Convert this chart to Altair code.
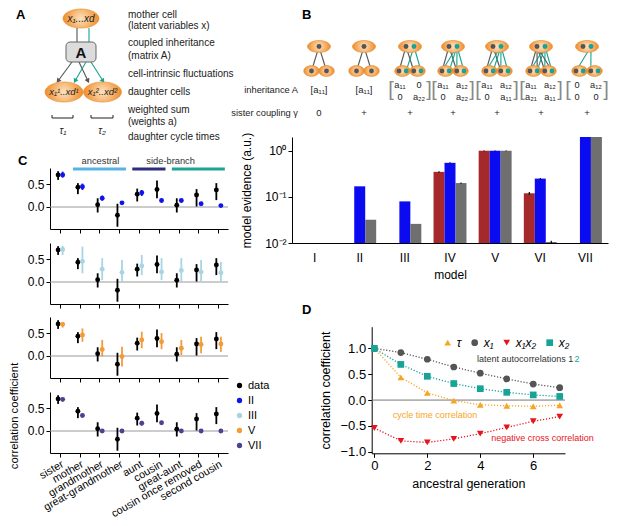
import math
import altair as alt
import pandas as pd

FONT = "Liberation Sans, Arial, Helvetica, sans-serif"
M = 8            # page margin
W, H = 601, 510  # drawing area

# ---------------- Panel B : model evidence ----------------
models = ["I", "II", "III", "IV", "V", "VI", "VII"]
ev_series = ["red", "blue", "gray"]
ev_hex = {"red": "#a5282a", "blue": "#0b0bf2", "gray": "#6f6f6f"}
ev_red = [None, None, None, 0.35, 1.0, 0.12, None]
ev_blue = [None, 0.17, 0.08, 0.55, 1.0, 0.25, 2.0]
ev_gray = [None, 0.032, 0.026, 0.20, 1.0, 0.0105, 2.0]
ev_red_lo = [None, None, None, 0.338, 0.985, 0.112, None]
ev_red_hi = [None, None, None, 0.362, 1.015, 0.128, None]
ev_blue_lo = [None, None, None, 0.537, 0.985, 0.241, None]
ev_blue_hi = [None, None, None, 0.563, 1.015, 0.259, None]
ev_gray_lo = [None, None, None, 0.193, 0.985, 0.0100, None]
ev_gray_hi = [None, None, None, 0.207, 1.015, 0.0112, None]

# ---------------- Panel B : model sketches ----------------
B_gamma = ["0", "+", "+", "+", "+", "+", "+"]
B_matrix = [["a₁₁"], ["a₁₁"],
            ["a₁₁", "0", "0", "a₂₂"],
            ["a₁₁", "a₁₂", "0", "a₂₂"],
            ["a₁₁", "a₁₂", "0", "a₁₁"],
            ["a₁₁", "a₁₂", "a₂₁", "a₁₁"],
            ["0", "a₁₂", "0", "0"]]
B_links = [["11"], ["11"], ["11", "22"], ["11", "12", "22"],
           ["11", "12", "22"], ["11", "12", "21", "22"], ["12"]]
B_latent = [1, 1, 2, 2, 2, 2, 2]

# ---------------- Panel A : texts ----------------
A_text = ["mother cell", "(latent variables x)", "coupled inheritance", "(matrix A)",
          "cell-intrinsic fluctuations", "daughter cells", "weighted sum",
          "(weights a)", "daughter cycle times"]

# ---------------- Panel C : correlations ----------------
relations = ["sister", "mother", "grandmother", "great-grandmother", "aunt",
             "cousin", "great-aunt", "cousin once removed", "second cousin"]
data_v = [0.70, 0.43, 0.05, -0.18, 0.28, 0.38, 0.04, 0.26, 0.37]
data_lo = [0.59, 0.28, -0.12, -0.43, 0.12, 0.19, -0.12, 0.01, 0.15]
data_hi = [0.78, 0.52, 0.19, 0.07, 0.40, 0.58, 0.19, 0.39, 0.52]
C_models = ["II", "III", "V", "VII"]
mod_v = {
    "II": [0.70, 0.44, 0.19, 0.09, 0.31, 0.14, 0.14, 0.07, 0.03],
    "III": [0.71, 0.45, 0.28, 0.21, 0.35, 0.22, 0.25, 0.22, 0.20],
    "V": [0.69, 0.46, 0.14, -0.01, 0.35, 0.31, 0.17, 0.25, 0.26],
    "VII": [0.69, 0.34, 0.0, 0.0, 0.17, 0.18, 0.0, 0.0, 0.0],
}
mod_lo = {
    "II": [0.64, 0.37, 0.14, 0.06, 0.24, 0.10, 0.10, 0.04, 0.02],
    "III": [0.59, 0.19, 0.04, 0.00, 0.15, 0.04, 0.00, 0.00, -0.02],
    "V": [0.62, 0.31, -0.01, -0.23, 0.17, 0.15, 0.02, 0.06, 0.09],
    "VII": [0.64, 0.29, 0.0, 0.0, 0.12, 0.14, 0.0, 0.0, 0.0],
}
mod_hi = {
    "II": [0.77, 0.51, 0.25, 0.12, 0.37, 0.18, 0.18, 0.10, 0.04],
    "III": [0.79, 0.77, 0.52, 0.48, 0.59, 0.52, 0.52, 0.48, 0.44],
    "V": [0.74, 0.60, 0.35, 0.20, 0.53, 0.50, 0.35, 0.42, 0.42],
    "VII": [0.73, 0.38, 0.0, 0.0, 0.22, 0.22, 0.0, 0.0, 0.0],
}
C_series = ["data", "II", "III", "V", "VII"]
C_hex = ["#000000", "#1212ee", "#a9d4e4", "#f39b37", "#4a4390"]
groups = ["ancestral", "side-branch", ""]
group_from = [1, 4, 6]
group_to = [3, 5, 8]
group_hex = ["#56b3e3", "#2e2e80", "#1fa394"]

# ---------------- Panel D : ancestral correlations ----------------
gen = [0, 1, 2, 3, 4, 5, 6, 7]
d_x1 = [1.0, 0.92, 0.79, 0.64, 0.52, 0.41, 0.31, 0.24]
d_x2 = [1.0, 0.69, 0.46, 0.32, 0.22, 0.15, 0.10, 0.07]
d_tau = [1.0, 0.44, 0.14, -0.01, -0.09, -0.11, -0.12, -0.10]
d_x1x2 = [-0.54, -0.79, -0.82, -0.75, -0.65, -0.53, -0.41, -0.32]
D_names = ["τ", "x₁", "x₁x₂", "x₂"]
D_hex = ["#f5a623", "#555555", "#e8141c", "#17a398"]
D_shapes = ["triangle-up", "circle", "triangle-down", "square"]


# ================= helpers =================
def S(domain, r0, r1, **kw):
    """scale whose range is given in page pixels"""
    return alt.Scale(domain=domain, range=[r0 - M, r1 - M], nice=False, zero=False, **kw)


PX = S([0, 617], 0, 617)
PY = S([0, 526], 0, 526)


def pos_enc():
    return dict(x=alt.X("x:Q", scale=PX, axis=None), y=alt.Y("y:Q", scale=PY, axis=None))


def text_layer(rows, align="center", style="normal", weight="normal", angle=None, baseline="middle"):
    kw = dict(font=FONT, align=align, baseline=baseline, fontStyle=style, fontWeight=weight)
    if angle is not None:
        kw["angle"] = angle
    return alt.Chart(pd.DataFrame(rows, columns=["x", "y", "t", "fs", "c"])).mark_text(**kw).encode(
        **pos_enc(), text="t:N", size=alt.Size("fs:Q", scale=None), color=alt.Color("c:N", scale=None))


def ell_path(r):
    return f"M-1,0A1,{r},0,1,1,1,0A1,{r},0,1,1,-1,0Z"


GRAY, TEAL = "#555555", "#19a394"

# ================= diagrams (panels A and B top) =================
cells = [(81, 18.5, 36, 0.53), (64, 92, 38, 0.53), (102.5, 92, 38, 0.53)]
B_cx = [319, 364, 410, 453, 497, 541, 587]
dots, links = [], []
for i, c in enumerate(B_cx):
    cells += [(c, 46.5, 23, 0.52), (c - 7.5, 71, 15.5, 0.7), (c + 7.5, 71, 15.5, 0.7)]
    if B_latent[i] == 1:
        mom = {"1": (c, 46.5)}
        kids = {"1": [(c - 7.5, 71), (c + 7.5, 71)], "2": []}
    else:
        mom = {"1": (c - 4, 46.5), "2": (c + 4, 46.5)}
        kids = {"1": [(c - 11, 71), (c + 3.8, 71)], "2": [(c - 3.8, 71), (c + 11, 71)]}
    for lk in B_links[i]:
        tgt, src = lk[0], lk[1]
        sx_, sy_ = mom[src]
        for kx, ky in kids[tgt]:
            links.append((sx_, sy_, kx, ky, GRAY if src == "1" else TEAL))
    for k, (mx, my) in mom.items():
        dots.append((mx, my, GRAY if k == "1" else TEAL))
    for k, lst in kids.items():
        for kx, ky in lst:
            dots.append((kx, ky, GRAY if k == "1" else TEAL))

cell_df = pd.DataFrame([{"x": x, "y": y, "s": w * w, "p": ell_path(r)} for x, y, w, r in cells])
grad = {"gradient": "radial", "stops": [{"offset": 0, "color": "#fde3c1"}, {"offset": 1, "color": "#ef8b28"}]}
ellipses = alt.Chart(cell_df).mark_point(filled=True, opacity=1, fill=grad, stroke="#e68a2a",
                                         strokeWidth=0.6).encode(
    **pos_enc(), size=alt.Size("s:Q", scale=None), shape=alt.Shape("p:N", scale=None))

# panel A connections
A_segs = [(77, 28, 77, 42, GRAY), (89, 28, 89, 42, TEAL)]
A_arrows = [(72, 62, 58, 81, GRAY), (79, 62, 88, 81, GRAY), (86, 62, 75, 81, TEAL), (91, 62, 103, 81, TEAL)]
A_brackets = [(52, 118, 73, 118), (52, 115, 52, 118), (73, 115, 73, 118),
              (91, 118, 113, 118), (91, 115, 91, 118), (113, 115, 113, 118)]
seg_rows = [dict(x=a, y=b, x2=c, y2=d, h=e) for a, b, c, d, e in A_segs + A_arrows + links]
seg_rows += [dict(x=a, y=b, x2=c, y2=d, h="#333333") for a, b, c, d in A_brackets]
segs = alt.Chart(pd.DataFrame(seg_rows)).mark_rule(strokeWidth=1.1).encode(
    **pos_enc(), x2="x2:Q", y2="y2:Q", color=alt.Color("h:N", scale=None))

head_rows = []
for a, b, c, d, e in A_arrows:
    ang = math.degrees(math.atan2(-(c - a), (d - b))) % 360
    head_rows.append(dict(x=c, y=d, ang=ang, h=e))
heads = alt.Chart(pd.DataFrame(head_rows)).mark_point(shape="triangle-down", filled=True, opacity=1,
                                                      size=28).encode(
    **pos_enc(), angle=alt.Angle("ang:Q", scale=None), color=alt.Color("h:N", scale=None))

box = alt.Chart(pd.DataFrame([dict(x=66, y=42, x2=96, y2=62)])).mark_rect(
    cornerRadius=4, fill="#dcdcdc", stroke="#666666", strokeWidth=1).encode(**pos_enc(), x2="x2:Q", y2="y2:Q")

dot_df = pd.DataFrame([dict(x=a, y=b, h=c) for a, b, c in dots])
dot_layer = alt.Chart(dot_df).mark_circle(size=24, opacity=1).encode(**pos_enc(), color=alt.Color("h:N", scale=None))

TXT = "#222222"
A_rows_y = [15, 25.5, 43, 56, 74, 92, 110, 122, 137]
t_left = [(128, y, t, 10, TXT) for y, t in zip(A_rows_y, A_text)]
t_right = [(298, 90, "inheritance A", 9.3, TXT), (298, 113, "sister coupling γ", 9.3, TXT)]
t_center = [(c, 113, g, 9.5, TXT) for c, g in zip(B_cx, B_gamma)]
t_brack = []
for c, mat in zip(B_cx, B_matrix):
    if len(mat) == 1:
        t_center.append((c, 90, "[" + mat[0] + "]", 9.5, TXT))
    else:
        t_center += [(c - 10, 85, mat[0], 9.2, TXT), (c + 9, 85, mat[1], 9.2, TXT),
                     (c - 10, 96.5, mat[2], 9.2, TXT), (c + 9, 96.5, mat[3], 9.2, TXT)]
        t_brack += [(c - 19, 90, "[", 20, "#888888"), (c + 19, 90, "]", 20, "#888888")]
t_ital = [(81, 18.5, "x₁...xd", 10, TXT), (64, 92, "x₁¹..xd¹", 9.5, TXT), (102.5, 92, "x₁²..xd²", 9.5, TXT),
          (63, 131, "τ₁", 10, TXT), (102, 131, "τ₂", 10, TXT)]
t_boldA = [(81, 52.5, "A", 15, "#111111")]
t_panels = [(16, 15, "A", 13, "#000000"), (302, 15, "B", 13, "#000000"),
            (18, 161, "C", 13, "#000000"), (302, 310, "D", 13, "#000000")]
t_ctitle = [(15, 416, "correlation coefficient", 11.3, "#000000")]

diagram = alt.layer(
    segs, heads, ellipses, box, dot_layer,
    text_layer(t_left, align="left"),
    text_layer(t_right, align="right"),
    text_layer(t_center),
    text_layer(t_brack, weight="lighter"),
    text_layer(t_ital, style="italic"),
    text_layer(t_boldA, weight="bold"),
    text_layer(t_panels, align="left", weight="bold"),
    text_layer(t_ctitle, angle=270),
)

# ================= Panel B bars =================
ev = {"red": (ev_red, ev_red_lo, ev_red_hi), "blue": (ev_blue, ev_blue_lo, ev_blue_hi),
      "gray": (ev_gray, ev_gray_lo, ev_gray_hi)}
bar_rows, err_rows = [], []
for s in ev_series:
    vals, los, his = ev[s]
    for m, v, lo, hi in zip(models, vals, los, his):
        if v is not None:
            bar_rows.append(dict(model=m, series=s, v=v, base=0.01, hex=ev_hex[s]))
        if lo is not None:
            err_rows.append(dict(model=m, series=s, lo=lo, hi=hi))
bx = alt.Scale(domain=models, range=[292 - M, 608 - M], paddingInner=0.27, paddingOuter=0.135)
by = S([0.01, 2], 243, 137, type="log")
bar_xaxis = alt.Axis(orient="bottom", offset=-(H - (243 - M)), ticks=False, labelPadding=9,
                     labelFontSize=12, labelAngle=0, title="model", titleFontSize=12, titlePadding=6)
bar_yaxis = alt.Axis(orient="left", offset=-(292 - M), values=[0.01, 0.1, 1], tickSize=4,
                     labelExpr="datum.value > 0.5 ? '10⁰' : (datum.value > 0.05 ? '10⁻¹' : '10⁻²')",
                     labelFontSize=12, labelPadding=2, title="model evidence (a.u.)", titleFontSize=12,
                     titlePadding=11)
bars = alt.Chart(pd.DataFrame(bar_rows)).mark_bar().encode(
    x=alt.X("model:N", scale=bx, axis=bar_xaxis),
    xOffset=alt.XOffset("series:N", scale=alt.Scale(domain=ev_series)),
    y=alt.Y("v:Q", scale=by, axis=bar_yaxis), y2="base:Q",
    color=alt.Color("hex:N", scale=None))
bar_err = alt.Chart(pd.DataFrame(err_rows)).mark_rule(color="black", strokeWidth=1.2).encode(
    x=alt.X("model:N", scale=bx, axis=bar_xaxis),
    xOffset=alt.XOffset("series:N", scale=alt.Scale(domain=ev_series)),
    y=alt.Y("lo:Q", scale=by, axis=bar_yaxis), y2="hi:Q")
bpanel = alt.layer(bars, bar_err)

# ================= Panel C =================
C_tops = [168, 243, 317, 392]
C_bots = [229, 304, 378, 453]
C_xdom = [-0.5, 8.5]
C_ydom = [-0.48, 0.85]
DATA_OFF, MOD_OFF = -0.09, 0.14
c_color = alt.Color("series:N", scale=alt.Scale(domain=C_series, range=C_hex),
                    legend=alt.Legend(orient="none", legendX=237 - M - 3, legendY=386 - M - 6, title=None,
                                      labelFont=FONT, labelFontSize=11, symbolSize=28, symbolType="circle",
                                      rowPadding=3, padding=0, labelOffset=3))
hexmap = dict(zip(C_series, C_hex))


def c_panel(k, model):
    xs = S(C_xdom, 50, 228)
    ys = S(C_ydom, C_bots[k], C_tops[k])
    rows = []
    for i in range(len(relations)):
        rows.append(dict(pos=i + DATA_OFF, v=data_v[i], lo=data_lo[i], hi=data_hi[i], series="data",
                         hex=hexmap["data"]))
        rows.append(dict(pos=i + MOD_OFF, v=mod_v[model][i], lo=mod_lo[model][i], hi=mod_hi[model][i],
                         series=model, hex=hexmap[model]))
    df = pd.DataFrame(rows)
    xaxis = alt.Axis(orient="bottom", offset=-(H - (C_bots[k] - M)), values=list(range(len(relations))),
                     tickSize=4, labels=False, title=None)
    yaxis = alt.Axis(orient="left", offset=-(50 - M), values=[0, 0.5], format=".1f", tickSize=4,
                     labelFontSize=12, labelPadding=2, title=None)
    zero = alt.Chart(pd.DataFrame({"x0": [C_xdom[0]], "x1": [C_xdom[1]], "y0": [0.0]})).mark_rule(
        color="#9a9a9a", strokeWidth=1.2).encode(
        x=alt.X("x0:Q", scale=xs, axis=xaxis), x2="x1:Q", y=alt.Y("y0:Q", scale=ys, axis=yaxis))
    err = alt.Chart(df).mark_rule(strokeWidth=1.8).encode(
        x=alt.X("pos:Q", scale=xs, axis=xaxis), y=alt.Y("lo:Q", scale=ys, axis=yaxis), y2="hi:Q",
        color=alt.Color("hex:N", scale=None))
    pts = alt.Chart(df).mark_circle(size=24, opacity=1).encode(
        x=alt.X("pos:Q", scale=xs, axis=xaxis), y=alt.Y("v:Q", scale=ys, axis=yaxis), color=c_color)
    layers = [zero, err, pts]
    if k == 0:
        gdf = pd.DataFrame(dict(g=groups, a=[f - 0.34 for f in group_from], b=[t + 0.34 for t in group_to],
                                yl=[0.828] * 3, hex=group_hex))
        glines = alt.Chart(gdf).mark_rule(strokeWidth=3).encode(
            x=alt.X("a:Q", scale=xs, axis=xaxis), x2="b:Q", y=alt.Y("yl:Q", scale=ys, axis=yaxis),
            color=alt.Color("hex:N", scale=None))
        tdf = pd.DataFrame(dict(t=["ancestral", "side-branch"], xp=[2.05, 5.6], yp=[1.0, 1.0]))
        gtext = alt.Chart(tdf).mark_text(font=FONT, fontSize=9.3, color="#333333").encode(
            x=alt.X("xp:Q", scale=xs, axis=xaxis), y=alt.Y("yp:Q", scale=ys, axis=yaxis), text="t:N")
        layers += [glines, gtext]
    if k == 3:
        ldf = pd.DataFrame(dict(t=relations, xp=list(range(len(relations))), yp=[-0.6] * len(relations)))
        ltext = alt.Chart(ldf).mark_text(font=FONT, fontSize=10.8, color="black", angle=330, align="right",
                                         baseline="top").encode(
            x=alt.X("xp:Q", scale=xs, axis=xaxis), y=alt.Y("yp:Q", scale=ys, axis=yaxis), text="t:N")
        layers += [ltext]
    return alt.layer(*layers)


cpanel = alt.layer(*[c_panel(k, m) for k, m in enumerate(C_models)]).resolve_scale(
    x="independent", y="independent", color="shared").resolve_axis(x="independent", y="independent")

# ================= Panel D =================
dx = S([-0.1, 7.2], 371.7, 565)
dy = S([-1.03, 1.42], 453.3, 326.7)
d_series = {"τ": d_tau, "x₁": d_x1, "x₁x₂": d_x1x2, "x₂": d_x2}
d_rows = []
for name, h in zip(D_names, D_hex):
    for g, v in zip(gen, d_series[name]):
        d_rows.append(dict(gen=g, v=v, series=name, hex=h))
ddf = pd.DataFrame(d_rows)
d_xaxis = alt.Axis(orient="bottom", offset=-(H - (453.3 - M)), values=[0, 2, 4, 6], tickSize=4,
                   labelFontSize=13, labelPadding=2, title="ancestral generation", titleFontSize=12.5,
                   titlePadding=5)
d_yaxis = alt.Axis(orient="left", offset=-(371.7 - M), values=[-1, -0.5, 0, 0.5, 1], tickSize=4,
                   labelExpr="replace(format(datum.value, '.1f'), '-', '−')", labelFontSize=13,
                   labelPadding=2, title="correlation coefficient", titleFontSize=12.5, titlePadding=8)
d_leg = alt.Legend(orient="none", direction="horizontal", legendX=441.7 - M, legendY=342.7 - M - 6,
                   title=None, labelFont=FONT, labelFontSize=12, labelFontStyle="italic", symbolSize=45,
                   columnPadding=7, labelOffset=3, padding=0)
d_zero = alt.Chart(pd.DataFrame({"x0": [-0.1], "x1": [7.2], "y0": [0.0]})).mark_rule(
    color="#777777", strokeWidth=1).encode(
    x=alt.X("x0:Q", scale=dx, axis=d_xaxis), x2="x1:Q", y=alt.Y("y0:Q", scale=dy, axis=d_yaxis))
d_lines = alt.Chart(ddf).mark_line(strokeDash=[1.2, 1.8], strokeWidth=1.3).encode(
    x=alt.X("gen:Q", scale=dx, axis=d_xaxis), y=alt.Y("v:Q", scale=dy, axis=d_yaxis),
    color=alt.Color("hex:N", scale=None), detail="series:N")
d_pts = alt.Chart(ddf).mark_point(filled=True, opacity=1, size=45).encode(
    x=alt.X("gen:Q", scale=dx, axis=d_xaxis), y=alt.Y("v:Q", scale=dy, axis=d_yaxis),
    color=alt.Color("series:N", scale=alt.Scale(domain=D_names, range=D_hex), legend=d_leg),
    shape=alt.Shape("series:N", scale=alt.Scale(domain=D_names, range=D_shapes), legend=d_leg))
ann = pd.DataFrame(dict(
    t=["latent autocorrelations 1", "2", "cycle time correlation", "negative cross correlation"],
    xp=[3.88, 7.56, 2.29, 6.35], yp=[0.795, 0.795, -0.29, -0.734],
    c=["#333333", TEAL, "#f5a623", "#e8141c"], al=["left", "left", "center", "center"]))
d_ann_l = alt.Chart(ann[ann.al == "left"]).mark_text(font=FONT, fontSize=9, align="left").encode(
    x=alt.X("xp:Q", scale=dx, axis=d_xaxis), y=alt.Y("yp:Q", scale=dy, axis=d_yaxis), text="t:N",
    color=alt.Color("c:N", scale=None))
d_ann_c = alt.Chart(ann[ann.al == "center"]).mark_text(font=FONT, fontSize=9, align="center").encode(
    x=alt.X("xp:Q", scale=dx, axis=d_xaxis), y=alt.Y("yp:Q", scale=dy, axis=d_yaxis), text="t:N",
    color=alt.Color("c:N", scale=None))
dpanel = alt.layer(d_zero, d_lines, d_pts, d_ann_l, d_ann_c)

# ================= assemble =================
chart = alt.layer(diagram, bpanel, cpanel, dpanel).resolve_scale(
    x="independent", y="independent", color="independent", shape="independent"
).resolve_axis(x="independent", y="independent").properties(
    width=W, height=H, padding=0, autosize=alt.AutoSizeParams(type="none"), background="white"
).configure_view(stroke=None).configure_axis(
    grid=False, labelFont=FONT, titleFont=FONT, domainColor="black", tickColor="black",
    labelColor="black", titleColor="black", titleFontWeight="normal", domainWidth=1, tickWidth=1
).configure_legend(labelFont=FONT)

chart.save("out.html", embed_options={"renderer": "svg", "actions": False})
